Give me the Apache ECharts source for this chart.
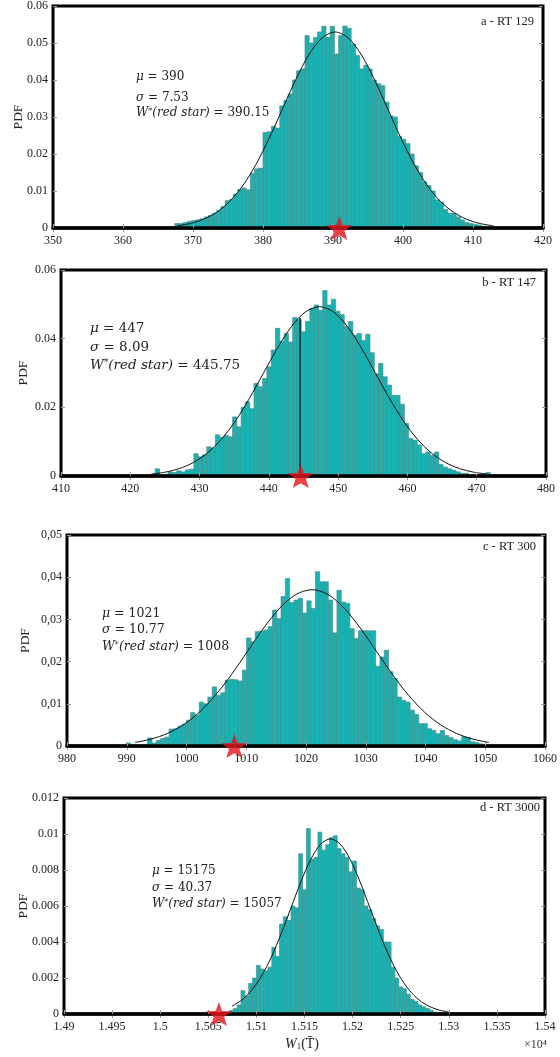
<!DOCTYPE html>
<html>
<head>
<meta charset="utf-8">
<script src="https://cdn.jsdelivr.net/npm/echarts@6/dist/echarts.min.js"></script>
<style>
html,body{margin:0;padding:0;background:#fff;}
#c{width:560px;height:1057px;}
</style>
</head>
<body>
<div id="c"></div>
<script>
// ---------------- DATA ----------------
// Panel a - RT 129
const aTitle = 'a - RT 129';
const aMu = '390', aSigma = '7.53', aWstar = '390.15';
const aXTicks = [350, 420, 10];
const aYTicks = [0, 0.06, 0.01];
const aBinStart = 367.4, aBinWidth = 0.6;
const aPdf = [0.0012,0.0012,0.0015,0.0018,0.0020,0.0022,0.0025,0.0030,0.0034,0.0040,
  0.0048,0.0058,0.0074,0.0077,0.0092,0.0104,0.0108,0.0103,0.0148,0.0160,
  0.0162,0.0258,0.0260,0.0275,0.0270,0.0330,0.0345,0.0362,0.0400,0.0425,
  0.0430,0.0520,0.0500,0.0515,0.0530,0.0545,0.0515,0.0545,0.0470,0.0520,
  0.0546,0.0540,0.0497,0.0466,0.0430,0.0440,0.0430,0.0400,0.0390,0.0385,
  0.0340,0.0303,0.0300,0.0247,0.0240,0.0228,0.0200,0.0168,0.0150,0.0125,
  0.0115,0.0100,0.0076,0.0070,0.0050,0.0040,0.0040,0.0030,0.0022,0.0015,
  0.0012,0.0010,0.0008,0.0005];
const aCurveX = [367.71,369.59,371.47,373.36,375.24,377.12,379.0,380.89,382.77,384.65,386.53,388.42,390.3,392.18,394.07,395.95,397.83,399.71,401.6,403.48,405.36,407.24,409.13,411.01,412.89];
const aCurveY = [0.00059,0.00121,0.00233,0.00422,0.00717,0.01146,0.01720,0.02426,0.03213,0.03999,0.04676,0.05135,0.05298,0.05135,0.04676,0.03999,0.03213,0.02426,0.01720,0.01146,0.00717,0.00422,0.00233,0.00121,0.00059];
const aStar = 390.9;

// Panel b - RT 147
const bTitle = 'b - RT 147';
const bMu = '447', bSigma = '8.09', bWstar = '445.75';
const bXTicks = [410, 480, 10];
const bYTicks = [0, 0.06, 0.02];
const bBinStart = 423.6, bBinWidth = 0.62;
const bPdf = [0.0021,0.0000,0.0005,0.0012,0.0010,0.0015,0.0012,0.0018,0.0020,0.0065,
  0.0056,0.0062,0.0085,0.0082,0.0120,0.0112,0.0118,0.0114,0.0172,0.0143,
  0.0200,0.0216,0.0196,0.0270,0.0260,0.0284,0.0318,0.0367,0.0430,0.0392,
  0.0415,0.0390,0.0462,0.0455,0.0420,0.0450,0.0488,0.0498,0.0483,0.0540,
  0.0498,0.0515,0.0480,0.0470,0.0435,0.0450,0.0410,0.0415,0.0395,0.0413,
  0.0359,0.0298,0.0328,0.0289,0.0265,0.0235,0.0235,0.0209,0.0153,0.0109,
  0.0104,0.0090,0.0065,0.0070,0.0060,0.0070,0.0034,0.0026,0.0021,0.0017,
  0.0012,0.0008,0.0008,0.0004,0.0003,0.0002,0.0000,0.0010];
const bCurveX = [423.03,425.05,427.08,429.10,431.12,433.14,435.17,437.19,439.21,441.23,443.26,445.28,447.3,449.32,451.34,453.37,455.39,457.41,459.43,461.46,463.48,465.50,467.52,469.55,471.57];
const bCurveY = [0.00055,0.00112,0.00217,0.00392,0.00667,0.01067,0.01601,0.02258,0.02991,0.03722,0.04352,0.04780,0.04931,0.04780,0.04352,0.03722,0.02991,0.02258,0.01601,0.01067,0.00667,0.00392,0.00217,0.00112,0.00055];
const bStar = 444.6;
const bMarkLine = [[444.5, 0], [444.5, 0.046]];

// Panel c - RT 300
const cTitle = 'c - RT 300';
const cMu = '1021', cSigma = '10.77', cWstar = '1008';
const cXTicks = [980, 1060, 10];
const cYTicks = [0, 0.05, 0.01];
const cBinStart = 989.9, cBinWidth = 0.72;
const cPdf = [0.0007,0.0003,0.0002,0.0003,0.0004,0.0019,0.0007,0.0013,0.0018,0.0021,
  0.0040,0.0041,0.0047,0.0052,0.0061,0.0079,0.0073,0.0104,0.0100,0.0116,
  0.0140,0.0120,0.0126,0.0156,0.0158,0.0157,0.0154,0.0180,0.0256,0.0247,
  0.0271,0.0272,0.0275,0.0283,0.0322,0.0302,0.0354,0.0397,0.0340,0.0346,
  0.0350,0.0315,0.0344,0.0326,0.0413,0.0389,0.0389,0.0346,0.0268,0.0369,
  0.0341,0.0338,0.0278,0.0255,0.0273,0.0273,0.0273,0.0273,0.0189,0.0211,
  0.0227,0.0176,0.0160,0.0116,0.0108,0.0104,0.0085,0.0075,0.0053,0.0053,
  0.0041,0.0037,0.0029,0.0037,0.0025,0.0020,0.0015,0.0012,0.0022,0.0020,
  0.0010,0.0008,0.0005];
const cCurveX = [991.38,994.07,996.77,999.46,1002.15,1004.84,1007.54,1010.23,1012.92,1015.61,1018.31,1021,1023.69,1026.39,1029.08,1031.77,1034.46,1037.16,1039.85,1042.54,1045.23,1047.93,1050.62];
const cCurveY = [0.00084,0.00163,0.00295,0.00501,0.00801,0.01203,0.01696,0.02247,0.02796,0.03269,0.03590,0.03704,0.03590,0.03269,0.02796,0.02247,0.01696,0.01203,0.00801,0.00501,0.00295,0.00163,0.00084];
const cStar = 1008;

// Panel d - RT 3000 (x in units of 10^4)
const dTitle = 'd - RT 3000';
const dMu = '15175', dSigma = '40.37', dWstar = '15057';
const dXTicks = [1.49, 1.54, 0.005];
const dYTicks = [0, 0.012, 0.002];
const dBinStart = 1.5072, dBinWidth = 0.0004;
const dPdf = [0.0002,0.0003,0.0005,0.0013,0.0010,0.0017,0.0020,0.0027,0.0025,0.0024,
  0.0026,0.0037,0.0032,0.0050,0.0054,0.0052,0.0060,0.0059,0.0089,0.0069,
  0.0103,0.0086,0.0087,0.0101,0.0091,0.0094,0.0098,0.0099,0.0092,0.0089,
  0.0087,0.0079,0.0085,0.0070,0.0069,0.0060,0.0058,0.0053,0.0049,0.0047,
  0.0040,0.0040,0.0026,0.0020,0.0015,0.0014,0.0011,0.0008,0.0007,0.0005,
  0.0004,0.0003,0.0002,0.0001];
const dCurveX = [1.50745,1.508475,1.5095,1.510525,1.51155,1.512575,1.5136,1.514625,1.51565,1.516675,1.5177,1.518725,1.51975,1.520775,1.5218,1.522825,1.52385,1.524875,1.5259,1.526925,1.52795,1.528975,1.53];
const dCurveY = [0.000428,0.000774,0.001317,0.002104,0.003159,0.004455,0.005902,0.007345,0.008587,0.009431,0.009730,0.009431,0.008587,0.007345,0.005902,0.004455,0.003159,0.002104,0.001317,0.000774,0.000428,0.000222,0.000108];
const dStar = 1.5061;
const dXName = 'W';
const dXUnit = '×10⁴';

// ---------------- LAYOUT / STYLE ----------------
const serif = '"Liberation Serif", "DejaVu Serif", serif';
const mathFont = '"DejaVu Serif", serif';
const starPath = 'path://M0,-10 L2.35,-3.24 L9.51,-3.09 L3.8,1.24 L5.88,8.09 L0,4.6 L-5.88,8.09 L-3.8,1.24 L-9.51,-3.09 L-2.35,-3.24 Z';

const panels = [
  {title:aTitle, mu:aMu, sigma:aSigma, w:aWstar, xt:aXTicks, yt:aYTicks, bs:aBinStart, bw:aBinWidth, pdf:aPdf, cx:aCurveX, cy:aCurveY, star:aStar,
   grid:{left:53,right:17,top:5,height:223}, yFmt:v=>v===0?'0':v.toFixed(2), xFmt:v=>String(Math.round(v)), nameGap:28,
   txt:{x:136, y:[77,98,113], size:12}, titlePos:[534,22]},
  {title:bTitle, mu:bMu, sigma:bSigma, w:bWstar, xt:bXTicks, yt:bYTicks, bs:bBinStart, bw:bBinWidth, pdf:bPdf, cx:bCurveX, cy:bCurveY, star:bStar,
   grid:{left:61,right:14,top:270,height:206}, yFmt:v=>v===0?'0':v.toFixed(2), xFmt:v=>String(Math.round(v)), nameGap:31,
   txt:{x:90, y:[328,347,365], size:13.5}, titlePos:[536,283], mark:bMarkLine},
  {title:cTitle, mu:cMu, sigma:cSigma, w:cWstar, xt:cXTicks, yt:cYTicks, bs:cBinStart, bw:cBinWidth, pdf:cPdf, cx:cCurveX, cy:cCurveY, star:cStar,
   grid:{left:67,right:15,top:535,height:211}, yFmt:v=>v===0?'0':v.toFixed(2).replace('.',','), xFmt:v=>String(Math.round(v)), nameGap:35,
   txt:{x:102, y:[614,630,647], size:12.5}, titlePos:[536,547]},
  {title:dTitle, mu:dMu, sigma:dSigma, w:dWstar, xt:dXTicks, yt:dYTicks, bs:dBinStart, bw:dBinWidth, pdf:dPdf, cx:dCurveX, cy:dCurveY, star:dStar,
   grid:{left:64,right:15,top:798,height:216}, yFmt:v=>v===0?'0':String(parseFloat(v.toFixed(3))), xFmt:v=>String(parseFloat(v.toFixed(3))), nameGap:34,
   txt:{x:152, y:[871,888,904], size:12}, titlePos:[540,808]}
];

const grids = [], xAxes = [], yAxes = [], series = [], graphics = [];
panels.forEach((p, k) => {
  grids.push(Object.assign({show:true, borderColor:'#000', borderWidth:3, backgroundColor:'#fff'}, p.grid));
  const tickStyle = {show:true, inside:true, length:4, lineStyle:{color:'#999', width:1}};
  xAxes.push({type:'value', gridIndex:k, min:p.xt[0], max:p.xt[1], interval:p.xt[2], z:5,
    axisLine:{show:true, onZero:false, lineStyle:{color:'#000', width:3.5}},
    axisTick:tickStyle, splitLine:{show:false},
    axisLabel:{color:'#222', fontFamily:serif, fontSize:12, margin:7, formatter:p.xFmt, showMinLabel:true, showMaxLabel:true}});
  xAxes.push({type:'value', gridIndex:k, position:'top', min:p.xt[0], max:p.xt[1], interval:p.xt[2],
    axisLine:{show:false}, axisTick:tickStyle, axisLabel:{show:false}, splitLine:{show:false}});
  yAxes.push({type:'value', gridIndex:k, min:p.yt[0], max:p.yt[1], interval:p.yt[2],
    name:'PDF', nameLocation:'middle', nameGap:p.nameGap, nameRotate:90, nameMoveOverlap:false,
    nameTextStyle:{fontFamily:serif, fontSize:13.5, color:'#222'},
    axisLine:{show:false}, axisTick:tickStyle, splitLine:{show:false},
    axisLabel:{color:'#222', fontFamily:serif, fontSize:12, margin:5, formatter:p.yFmt}});
  yAxes.push({type:'value', gridIndex:k, position:'right', min:p.yt[0], max:p.yt[1], interval:p.yt[2],
    axisLine:{show:false}, axisTick:tickStyle, axisLabel:{show:false}, splitLine:{show:false}});
  const xi = 2*k, yi = 2*k;
  const bw = p.bw;
  series.push({type:'custom', xAxisIndex:xi, yAxisIndex:yi, z:2,
    data:p.pdf.map((v,i)=>[p.bs + i*bw, v]), encode:{x:0, y:1},
    renderItem:function(params, api){
      const x0 = api.value(0), v = api.value(1);
      const a = api.coord([x0, v]); const b = api.coord([x0 + bw, 0]);
      return {type:'rect', shape:{x:a[0], y:a[1], width:b[0]-a[0], height:b[1]-a[1]},
        style:{fill:'#17b3b3', stroke:'#4f8c8c', lineWidth:0.7}};
    }});
  if (p.mark) {
    series.push({type:'line', xAxisIndex:xi, yAxisIndex:yi, z:3, symbol:'none', silent:true,
      data:p.mark, lineStyle:{color:'#000', width:1.2}});
  }
  series.push({type:'line', xAxisIndex:xi, yAxisIndex:yi, z:4, symbol:'none', smooth:0.3,
    data:p.cx.map((x,i)=>[x, p.cy[i]]), lineStyle:{color:'#111', width:1}});
  series.push({type:'scatter', xAxisIndex:xi, yAxisIndex:yi, z:10, symbol:starPath, symbolSize:[26,24],
    clip:false, data:[[p.star, 0]], itemStyle:{color:'#e3141b'}});
  const rich = {
    i:{fontFamily:mathFont, fontStyle:'italic', fontSize:p.txt.size, fill:'#222'},
    s:{fontFamily:mathFont, fontSize:p.txt.size*0.65, fill:'#222', verticalAlign:'top'}
  };
  const lines = ['{i|μ} = ' + p.mu, '{i|σ} = ' + p.sigma, '{i|W}{s|*}{i|(red star)} = ' + p.w];
  lines.forEach((t, j) => {
    graphics.push({type:'text', x:p.txt.x, y:p.txt.y[j], z:20,
      style:{text:t, rich:rich, fontFamily:mathFont, fontSize:p.txt.size, fill:'#222', align:'left', verticalAlign:'middle'}});
  });
  graphics.push({type:'text', x:p.titlePos[0], y:p.titlePos[1], z:20,
    style:{text:p.title, fontFamily:serif, fontSize:12.5, fill:'#222', align:'right', verticalAlign:'middle'}});
});
graphics.push({type:'text', x:302, y:1044, z:20,
  style:{text:'{i|' + dXName + '}{sub|1}(T̄)', fontFamily:serif, fontSize:14, fill:'#222', align:'center', verticalAlign:'middle',
    rich:{i:{fontFamily:serif, fontStyle:'italic', fontSize:14, fill:'#222'}, sub:{fontFamily:serif, fontSize:9, fill:'#222', verticalAlign:'bottom'}}}});
graphics.push({type:'text', x:547, y:1045, z:20,
  style:{text:dXUnit, fontFamily:serif, fontSize:12, fill:'#333', align:'right', verticalAlign:'middle'}});

const chart = echarts.init(document.getElementById('c'), null, {renderer:'canvas', width:560, height:1057});
chart.setOption({
  animation:false,
  backgroundColor:'#fff',
  grid:grids, xAxis:xAxes, yAxis:yAxes, series:series, graphic:graphics
});
</script>
</body>
</html>
